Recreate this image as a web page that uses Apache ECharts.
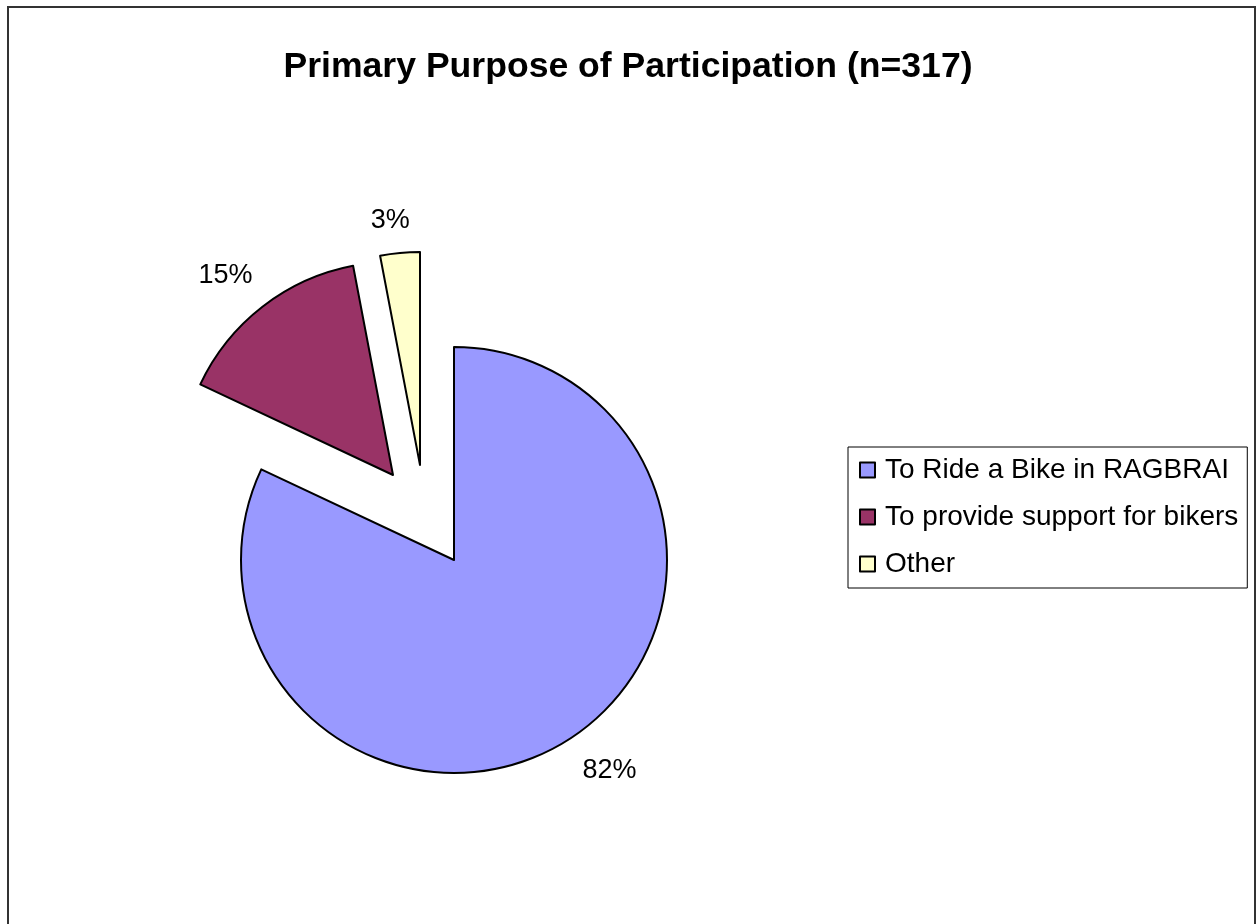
<!DOCTYPE html>
<html>
<head>
<meta charset="utf-8">
<script src="https://cdn.jsdelivr.net/npm/echarts@6/dist/echarts.min.js"></script>
<style>
  html, body { margin: 0; padding: 0; background: #fff; }
  #chart { width: 1256px; height: 924px; }
</style>
</head>
<body>
<div id="chart"></div>
<script>
// Survey answers: primary purpose of participation (n=317), in percent
const categories = ['To Ride a Bike in RAGBRAI', 'To provide support for bikers', 'Other'];
const shares = [82, 15, 3];
const sliceColors = ['#9999FF', '#993366', '#FFFFCC'];
const titleText = 'Primary Purpose of Participation (n=317)';

const FONT = '"Liberation Sans", Arial, sans-serif';

// Each slice is drawn by its own pie series so that the two exploded
// slices can be pulled out independently; the other slices of that
// series are left transparent so all three share one angular layout.
const sliceLayout = [
  { center: [454, 560], len: 36, len2: -5 },
  { center: [393, 475], len: 39, len2: -14 },
  { center: [420, 465], len: 33, len2: -13 }
];

function sliceSeries(idx) {
  const lay = sliceLayout[idx];
  return {
    type: 'pie',
    center: lay.center,
    radius: 213,
    startAngle: 90,
    clockwise: true,
    silent: true,
    animation: false,
    avoidLabelOverlap: false,
    label: { show: false, position: 'outside' },
    labelLine: { show: false },
    emphasis: { disabled: true },
    data: categories.map((name, i) => {
      if (i !== idx) {
        return {
          name: '\u200b' + i,
          value: shares[i],
          itemStyle: { color: 'rgba(0,0,0,0)', borderWidth: 0 },
          label: { show: false }
        };
      }
      return {
        name: name,
        value: shares[i],
        itemStyle: { color: sliceColors[i], borderColor: '#000', borderWidth: 2 },
        label: {
          show: true,
          position: 'outside',
          formatter: p => Math.round(p.percent) + '%',
          fontSize: 27,
          fontFamily: FONT,
          color: '#000',
          distanceToLabelLine: 0
        },
        labelLine: { show: false, length: lay.len, length2: lay.len2 }
      };
    })
  };
}

const chart = echarts.init(document.getElementById('chart'), null, { renderer: 'canvas' });
chart.setOption({
  backgroundColor: '#fff',
  animation: false,
  title: {
    text: titleText,
    left: 'center',
    top: 44,
    textStyle: { fontSize: 35.6, fontWeight: 'bold', fontFamily: FONT, color: '#000' }
  },
  legend: {
    orient: 'vertical',
    left: 848,
    top: 447,
    padding: [9, 9, 10, 11],
    itemGap: 19,
    itemWidth: 15,
    itemHeight: 15,
    icon: 'rect',
    borderColor: '#000',
    borderWidth: 1,
    selectedMode: false,
    data: categories,
    itemStyle: { borderColor: '#000', borderWidth: 2 },
    textStyle: { fontSize: 28, fontFamily: FONT, color: '#000', lineHeight: 28, padding: [0, 0, 0, 5] }
  },
  graphic: [{
    type: 'rect',
    silent: true,
    shape: { x: 8, y: 7, width: 1247, height: 940 },
    style: { fill: 'none', stroke: '#333', lineWidth: 2 }
  }],
  series: [sliceSeries(0), sliceSeries(1), sliceSeries(2)]
});
</script>
</body>
</html>
